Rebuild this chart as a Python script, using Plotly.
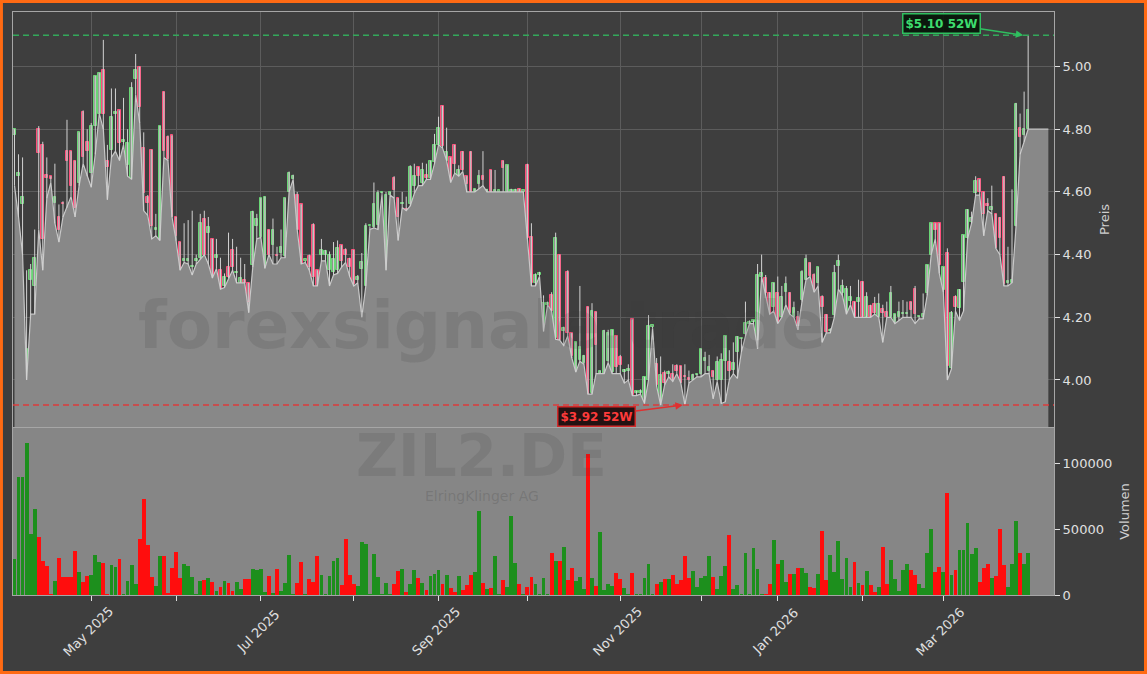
import pandas as pd
import plotly.graph_objects as go

# ---------------- data ----------------
open_ = [4.78,4.65,4.56,4.00,4.32,4.30,4.80,4.75,4.655,4.65,4.565,4.52,4.565,4.73,4.73,4.70,4.63,4.855,4.76,4.66,
 4.81,4.85,4.99,4.70,4.735,4.85,4.86,4.76,4.685,4.645,4.96,5.00,4.74,4.585,4.735,4.48,4.45,4.92,4.775,4.78,
 4.52,4.44,4.38,4.38,4.36,4.38,4.39,4.515,4.47,4.45,4.39,4.35,4.30,4.36,4.415,4.34,4.31,4.32,4.31,4.367,
 4.49,4.455,4.356,4.48,4.43,4.40,4.405,4.395,4.60,4.64,4.59,4.56,4.38,4.395,4.495,4.35,4.40,4.40,4.35,4.345,
 4.35,4.43,4.415,4.385,4.415,4.32,4.355,4.30,4.49,4.487,4.495,4.595,4.35,4.59,4.645,4.58,4.56,4.545,4.56,4.62,
 4.68,4.627,4.655,4.645,4.695,4.75,4.874,4.70,4.71,4.75,4.655,4.727,4.65,4.727,4.60,4.625,4.65,4.60,4.67,4.60,
 4.60,4.70,4.60,4.60,4.60,4.61,4.60,4.686,4.455,4.31,4.335,4.16,4.24,4.27,4.133,4.40,4.155,4.345,4.15,4.027,
 4.064,4.053,4.234,3.96,4.218,4.02,4.02,4.06,4.027,4.14,4.074,4.025,4.03,4.193,3.96,3.96,3.926,4.00,4.17,4.05,
 3.92,4.023,4.02,4.02,4.045,4.043,4.01,4.003,4.00,4.015,4.02,4.06,4.03,4.03,4.00,4.00,4.06,4.058,4.032,4.09,
 4.13,4.147,4.18,4.185,4.10,4.33,4.324,4.276,4.234,4.276,4.20,4.28,4.276,4.20,4.20,4.255,4.32,4.372,4.335,4.31,
 4.264,4.207,4.155,4.207,4.364,4.276,4.21,4.253,4.25,4.25,4.314,4.20,4.236,4.242,4.20,4.225,4.218,4.20,4.186,4.20,
 4.21,4.21,4.25,4.29,4.20,4.20,4.276,4.40,4.50,4.50,4.287,4.404,4.037,4.266,4.23,4.314,4.452,4.505,4.595,4.64,
 4.60,4.56,4.542,4.53,4.516,4.646,4.31,4.31,4.49,4.804,4.78,4.80]
high = [4.80,4.72,4.71,4.35,4.37,4.48,4.81,4.76,4.71,4.65,4.69,4.56,4.57,4.83,4.73,4.70,4.79,4.86,4.80,4.82,
 4.97,4.98,5.085,4.75,4.93,4.93,4.86,4.90,4.80,4.95,5.04,5.00,4.79,4.59,4.735,4.53,4.81,4.92,4.78,4.78,
 4.52,4.44,4.50,4.51,4.54,4.40,4.53,4.54,4.52,4.45,4.45,4.39,4.34,4.47,4.45,4.425,4.39,4.37,4.31,4.54,
 4.53,4.58,4.585,4.48,4.515,4.425,4.48,4.58,4.665,4.655,4.60,4.56,4.38,4.40,4.50,4.35,4.45,4.415,4.41,4.44,
 4.445,4.43,4.42,4.39,4.415,4.335,4.405,4.50,4.49,4.63,4.605,4.60,4.60,4.60,4.65,4.58,4.60,4.585,4.685,4.69,
 4.68,4.693,4.69,4.70,4.785,4.84,4.875,4.805,4.71,4.75,4.685,4.73,4.65,4.73,4.61,4.67,4.73,4.61,4.67,4.67,
 4.60,4.70,4.685,4.61,4.61,4.61,4.60,4.69,4.50,4.34,4.345,4.27,4.25,4.28,4.47,4.40,4.17,4.35,4.15,4.12,
 4.30,4.08,4.234,4.245,4.218,4.03,4.16,4.16,4.16,4.14,4.08,4.035,4.05,4.193,3.965,3.97,4.01,4.207,4.17,4.07,
 4.075,4.03,4.03,4.05,4.05,4.045,4.05,4.03,4.02,4.02,4.10,4.09,4.08,4.03,4.075,4.085,4.14,4.095,4.12,4.14,
 4.135,4.25,4.19,4.19,4.37,4.40,4.335,4.28,4.31,4.33,4.30,4.33,4.28,4.25,4.22,4.35,4.40,4.375,4.34,4.36,
 4.27,4.21,4.165,4.367,4.40,4.32,4.30,4.30,4.25,4.32,4.315,4.28,4.24,4.265,4.276,4.24,4.25,4.30,4.21,4.25,
 4.255,4.25,4.25,4.30,4.205,4.276,4.367,4.50,4.50,4.50,4.36,4.42,4.22,4.27,4.29,4.462,4.545,4.537,4.65,4.64,
 4.60,4.58,4.62,4.53,4.52,4.65,4.425,4.608,4.884,4.85,4.92,5.10]
low = [4.62,4.52,4.40,4.00,4.21,4.21,4.48,4.35,4.58,4.63,4.50,4.44,4.52,4.55,4.585,4.52,4.62,4.69,4.65,4.615,
 4.72,4.85,4.80,4.575,4.71,4.73,4.70,4.75,4.65,4.64,4.91,4.82,4.54,4.525,4.45,4.46,4.445,4.71,4.70,4.52,
 4.445,4.35,4.375,4.37,4.335,4.37,4.385,4.40,4.37,4.325,4.355,4.29,4.295,4.325,4.35,4.31,4.31,4.31,4.215,4.36,
 4.45,4.455,4.356,4.40,4.37,4.37,4.39,4.39,4.60,4.64,4.48,4.37,4.375,4.35,4.30,4.30,4.38,4.38,4.30,4.335,
 4.34,4.36,4.375,4.33,4.30,4.31,4.20,4.30,4.48,4.485,4.48,4.59,4.35,4.59,4.58,4.445,4.55,4.54,4.555,4.595,
 4.62,4.62,4.64,4.64,4.69,4.75,4.74,4.70,4.63,4.66,4.65,4.665,4.60,4.60,4.60,4.61,4.62,4.60,4.60,4.60,
 4.60,4.60,4.60,4.60,4.60,4.60,4.60,4.45,4.30,4.30,4.33,4.155,4.24,4.22,4.13,4.127,4.11,4.14,4.07,4.025,
 4.06,4.05,3.955,3.955,4.02,4.02,4.02,4.055,4.02,4.02,4.02,3.99,4.00,3.95,3.95,3.955,3.925,4.00,4.165,3.98,
 3.92,3.985,4.01,3.995,4.02,3.99,3.92,3.99,4.00,4.01,4.01,4.02,4.02,3.94,3.995,3.925,3.93,4.00,4.02,4.005,
 4.09,4.14,4.18,4.18,4.10,4.33,4.27,4.21,4.22,4.18,4.20,4.24,4.21,4.20,4.16,4.25,4.32,4.33,4.28,4.30,
 4.12,4.15,4.15,4.20,4.29,4.27,4.21,4.24,4.20,4.20,4.20,4.20,4.20,4.21,4.20,4.12,4.20,4.20,4.18,4.19,
 4.20,4.20,4.20,4.18,4.195,4.195,4.27,4.40,4.45,4.34,4.28,4.00,4.035,4.22,4.19,4.22,4.45,4.50,4.59,4.59,
 4.46,4.54,4.53,4.42,4.40,4.30,4.30,4.31,4.49,4.72,4.76,4.80]
close = [4.80,4.66,4.585,4.10,4.35,4.39,4.725,4.45,4.645,4.64,4.585,4.48,4.56,4.70,4.62,4.55,4.79,4.71,4.73,4.81,
 4.97,4.98,4.85,4.68,4.84,4.855,4.757,4.76,4.757,4.93,4.99,4.87,4.595,4.565,4.49,4.48,4.81,4.73,4.705,4.52,
 4.46,4.35,4.385,4.38,4.36,4.38,4.50,4.40,4.487,4.33,4.40,4.29,4.33,4.33,4.36,4.345,4.325,4.31,4.25,4.535,
 4.515,4.58,4.585,4.40,4.48,4.395,4.425,4.58,4.66,4.65,4.48,4.37,4.38,4.36,4.33,4.30,4.415,4.41,4.40,4.385,
 4.42,4.38,4.40,4.36,4.305,4.33,4.375,4.49,4.49,4.56,4.595,4.60,4.59,4.60,4.605,4.52,4.56,4.54,4.68,4.65,
 4.65,4.67,4.645,4.70,4.75,4.805,4.745,4.727,4.635,4.69,4.67,4.67,4.625,4.60,4.61,4.65,4.638,4.60,4.60,4.60,
 4.60,4.675,4.685,4.60,4.60,4.60,4.60,4.452,4.31,4.335,4.335,4.245,4.245,4.22,4.452,4.127,4.165,4.15,4.077,4.12,
 4.104,4.077,3.955,4.22,4.11,4.03,4.157,4.15,4.16,4.04,4.048,4.032,4.03,3.952,3.96,3.965,4.008,4.172,4.17,3.984,
 4.016,3.99,4.02,4.00,4.03,3.99,4.008,4.00,4.016,4.02,4.10,4.07,4.04,4.008,4.058,4.064,4.14,4.03,4.053,4.138,
 4.13,4.183,4.185,4.185,4.335,4.34,4.276,4.21,4.31,4.183,4.266,4.306,4.215,4.23,4.17,4.345,4.385,4.332,4.287,4.36,
 4.234,4.154,4.16,4.34,4.38,4.30,4.29,4.266,4.20,4.26,4.20,4.266,4.20,4.213,4.242,4.213,4.20,4.276,4.21,4.218,
 4.215,4.21,4.223,4.21,4.20,4.21,4.367,4.50,4.48,4.367,4.36,4.043,4.213,4.234,4.287,4.462,4.542,4.516,4.636,4.60,
 4.53,4.555,4.553,4.42,4.452,4.306,4.31,4.32,4.88,4.775,4.80,4.86]
volume = [27200,89600,90100,115500,46300,65400,43800,26000,22100,900,10700,28500,13700,13700,13700,33600,17600,10200,14500,15300,
 30500,25200,24400,1000,22900,21400,27200,800,10700,22900,8700,42800,73300,38200,13700,6900,29800,29800,1500,20400,
 32600,12700,23700,21900,13700,600,10700,11500,12700,9700,3100,6100,10700,9400,3100,9900,4300,12200,12200,19600,
 18800,19600,2300,14500,1500,19900,3100,9200,30500,500,9200,25200,500,12200,9900,29800,15300,700,14500,26000,
 28200,7600,42800,15300,8400,7100,40500,38900,600,31300,13700,600,9200,500,8400,18300,19600,2500,8700,18800,
 12700,9400,3800,14500,15800,18800,8700,15300,5600,2500,14500,3800,7600,15300,17600,64100,9400,4600,5600,29800,
 500,11500,6100,60300,24400,8700,400,6100,13700,8100,500,13200,500,31600,26000,26000,36600,11200,20400,10700,
 13700,4300,106900,12700,6900,48100,3600,8100,6900,16800,12000,5100,500,17100,500,500,13200,23900,500,8100,
 10200,12200,12200,15300,8700,11500,29800,12700,18300,6100,12700,14500,29800,13700,4600,14500,22100,45800,4300,7600,
 500,32100,500,36100,19600,500,500,8700,41700,23900,26500,10200,16300,16300,20400,20400,16800,6100,5600,16300,
 48900,11200,30500,17800,41200,12000,28500,6100,25200,9200,7600,18300,7600,2500,6100,36600,8100,26500,12200,3100,
 18800,23400,18800,15300,8100,5100,32100,50100,17800,21400,17800,77900,15300,19100,34600,34100,54700,31000,36100,10200,
 20400,23900,13200,14500,50400,22900,6100,23900,56500,31600,23900,31600]
low_tail = [4.80, 4.80, 4.80, 4.80, 4.80]   # area continues flat after the last candle

high_52w = 5.10
low_52w = 3.92
ticker = "ZIL2.DE"
company = "ElringKlinger AG"
price_ticks = [4.00, 4.20, 4.40, 4.60, 4.80, 5.00]
vol_ticks = [0, 50000, 100000]

holidays = ["2025-04-18", "2025-04-21", "2025-05-01", "2025-12-24", "2025-12-25",
            "2025-12-26", "2025-12-31", "2026-01-01"]

# ---------------- derived ----------------
n = min(len(open_), len(high), len(low), len(close), len(volume))
dates = [d for d in pd.bdate_range("2025-04-02", "2026-03-31") if d.strftime("%Y-%m-%d") not in holidays][:n]
idx = list(range(n))

tickvals, ticklabels = [], []
seen = set()
for i, d in enumerate(dates):
    key = (d.year, d.month)
    if key not in seen:
        seen.add(key)
        if i == 0:
            continue
        tickvals.append(i)
        ticklabels.append(d.strftime("%b %Y") if d.month % 2 == 1 else "")

up = [close[i] >= open_[i] for i in range(n)]
body_base = [min(open_[i], close[i]) for i in range(n)]
body_h = [max(abs(close[i] - open_[i]), 0.005) for i in range(n)]
body_fill = ["rgba(200,222,200,0.55)" if u else "rgba(238,190,200,0.55)" for u in up]
body_line = ["#6ad676" if u else "#ff4f7b" for u in up]
vol_col = ["#1d8f1d" if u else "#ff0d0d" for u in up]

wx, wy = [], []
for i in range(n):
    wx += [i, i, None]
    wy += [low[i], high[i], None]

area_x = list(range(n + len(low_tail)))
area_y = low[:n] + low_tail

# ---------------- figure ----------------
fig = go.Figure()
fig.add_trace(go.Scatter(x=area_x, y=area_y, mode="lines", fill="tozeroy",
                         fillcolor="#888888", line=dict(color="#c8c8c8", width=1.2),
                         xaxis="x", yaxis="y", hoverinfo="skip", showlegend=False))
fig.add_trace(go.Scatter(x=wx, y=wy, mode="lines", line=dict(color="#d2d2d2", width=1),
                         xaxis="x", yaxis="y", hoverinfo="skip", showlegend=False))
fig.add_trace(go.Bar(x=idx, y=body_h, base=body_base, width=0.66,
                     marker=dict(color=body_fill, line=dict(color=body_line, width=1)),
                     xaxis="x", yaxis="y", showlegend=False))
fig.add_trace(go.Bar(x=idx, y=volume[:n], width=0.95,
                     marker=dict(color=vol_col, line=dict(width=0)),
                     xaxis="x2", yaxis="y2", showlegend=False))

xr = [-0.37, 257.4]
tickfont = dict(family="DejaVu Sans", size=13, color="#e0e0e0")
frame = "#a6a6a6"
grid = "#5c5c5c"

fig.update_layout(
    width=1147, height=674,
    margin=dict(l=13, r=93, t=12, b=79),
    paper_bgcolor="#3e3e3e", plot_bgcolor="#3e3e3e",
    font=dict(family="DejaVu Sans", color="#e0e0e0"),
    bargap=0, showlegend=False,
    xaxis=dict(domain=[0, 1], anchor="y", range=xr, tickvals=tickvals, showticklabels=False,
               ticks="", showgrid=True, gridcolor=grid, gridwidth=1, zeroline=False,
               showline=True, mirror=True, linecolor=frame, linewidth=1),
    xaxis2=dict(domain=[0, 1], anchor="y2", range=xr, tickvals=tickvals, showticklabels=False,
                ticks="outside", ticklen=5, tickcolor="#e0e0e0",
                showgrid=False, zeroline=False, showline=True, mirror=True, linecolor=frame, linewidth=1),
    yaxis=dict(domain=[0.2882, 1], anchor="x", side="right", range=[3.850, 5.174],
               tickvals=price_ticks, tickformat=".2f", ticks="outside", ticklen=5, tickcolor="#e0e0e0",
               tickfont=tickfont, showgrid=True, gridcolor=grid, zeroline=False,
               showline=True, mirror=True, linecolor=frame, linewidth=1,
               title=dict(text="Preis", font=dict(family="DejaVu Sans", size=13, color="#cfcfcf"), standoff=9)),
    yaxis2=dict(domain=[0, 0.2865], anchor="x2", side="right", range=[0, 127000],
                tickvals=vol_ticks, ticktext=[str(v) for v in vol_ticks], ticks="outside", ticklen=5,
                tickcolor="#e0e0e0", tickfont=tickfont, showgrid=False, zeroline=False,
                showline=True, mirror=True, linecolor=frame, linewidth=1,
                title=dict(text="Volumen", font=dict(family="DejaVu Sans", size=13, color="#cfcfcf"), standoff=8)),
)

# month labels, rotated and centred under their ticks
for tv, tt in zip(tickvals, ticklabels):
    if tt:
        fig.add_annotation(x=tv, y=-0.062, xref="x2", yref="paper", text=tt, showarrow=False,
                           textangle=-45, xanchor="center", yanchor="middle", xshift=-3,
                           font=tickfont)

# volume panel background
fig.add_shape(type="rect", xref="x2 domain", yref="y2 domain", x0=0, x1=1, y0=0, y1=1,
              fillcolor="#868686", line=dict(width=0), layer="below")
# 52W lines
fig.add_shape(type="line", xref="x domain", yref="y", x0=0, x1=1, y0=high_52w, y1=high_52w,
              line=dict(color="#33a85a", width=1.5, dash="6px,4px"))
fig.add_shape(type="line", xref="x domain", yref="y", x0=0, x1=1, y0=low_52w, y1=low_52w,
              line=dict(color="#dc3b3b", width=1.5, dash="6px,4px"))
# orange outer frame
fig.add_shape(type="rect", xref="paper", yref="paper", x0=-0.0111, x1=1.0879, y0=-0.1329, y1=1.0180,
              line=dict(color="#ff6a13", width=3))

# watermarks
wm = "rgba(55,55,55,0.14)"
fig.add_annotation(xref="paper", yref="paper", x=0.4505, y=0.463, text="<b>forexsignale.trade</b>",
                   showarrow=False, xanchor="center", yanchor="middle",
                   font=dict(family="DejaVu Sans", size=66, color=wm))
fig.add_annotation(xref="paper", yref="paper", x=0.4496, y=0.2384, text="<b>" + ticker + "</b>",
                   showarrow=False, xanchor="center", yanchor="middle", borderpad=0,
                   font=dict(family="DejaVu Sans", size=58, color=wm))
fig.add_annotation(xref="paper", yref="paper", x=0.4505, y=0.1690, text=company,
                   showarrow=False, xanchor="center", yanchor="middle", borderpad=0,
                   font=dict(family="DejaVu Sans", size=14, color="rgba(55,55,55,0.2)"))

# 52W labels
fig.add_annotation(x=249.8, y=high_52w, xref="x", yref="y", text="<b>$%.2f 52W</b>" % high_52w,
                   showarrow=True, arrowhead=2, arrowsize=1, arrowwidth=1.5, arrowcolor="#2fbf5f",
                   ax=-82, ay=-12, font=dict(family="DejaVu Sans", size=12, color="#3ddc6e"),
                   bgcolor="rgba(5,20,8,0.9)", bordercolor="#2fbf5f", borderwidth=1.5, borderpad=2)
fig.add_annotation(x=165.5, y=low_52w, xref="x", yref="y", text="<b>$%.2f 52W</b>" % low_52w,
                   showarrow=True, arrowhead=2, arrowsize=1, arrowwidth=1.5, arrowcolor="#e03030",
                   ax=-86, ay=11, font=dict(family="DejaVu Sans", size=12, color="#ff3b3b"),
                   bgcolor="rgba(25,5,5,0.9)", bordercolor="#d02a2a", borderwidth=1.5, borderpad=2)

fig.write_html("out.html", config={"displayModeBar": False},
               post_script="document.body.style.margin='0';document.body.style.overflow='hidden';")
